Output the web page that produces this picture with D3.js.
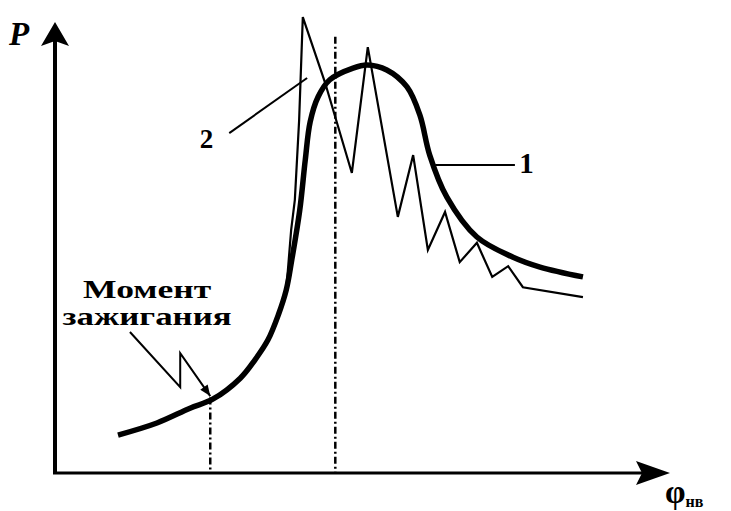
<!DOCTYPE html>
<html>
<head>
<meta charset="utf-8">
<script src="https://cdn.jsdelivr.net/npm/d3@7"></script>
<style>
  body { margin: 0; background: #fff; }
  svg { display: block; }
  text { font-family: "Liberation Serif", "DejaVu Serif", serif; font-weight: bold; fill: #000; }
</style>
</head>
<body>
<div class="container"></div>
<script>
// curve 1 (smooth, thick) and curve 2 (knocking, thin), values in chart units 0..100
var curve1 = [
    {x: 9.95, y: 7.8}, {x: 16.3, y: 10.5}, {x: 21.7, y: 13.8}, {x: 25.4, y: 15.8},
    {x: 29.9, y: 20.5}, {x: 32.3, y: 24.6}, {x: 34.4, y: 29.0}, {x: 36.1, y: 34.6},
    {x: 37.4, y: 40.2}, {x: 38.3, y: 46.9},
    {x: 39.6, y: 58.0}, {x: 40.5, y: 69.2}, {x: 41.3, y: 77.7}, {x: 42.6, y: 83.3},
    {x: 44.5, y: 87.1}, {x: 48.3, y: 89.7}, {x: 50.6, y: 90.4}, {x: 53.8, y: 89.3},
    {x: 57.1, y: 85.5}, {x: 59.2, y: 79.2}, {x: 60.8, y: 70.3}, {x: 63.6, y: 60.9},
    {x: 68.5, y: 52.0}, {x: 74.4, y: 47.5}, {x: 78.8, y: 45.3}, {x: 85.8, y: 43.1}
];

var curve2 = [
    {x: 37.2, y: 38.5}, {x: 37.6, y: 43.5}, {x: 38.2, y: 53.6}, {x: 38.8, y: 60.3},
    {x: 39.5, y: 78.1}, {x: 40.1, y: 101.1}, {x: 43.7, y: 86.6}, {x: 48.1, y: 66.3},
    {x: 50.7, y: 94.4}, {x: 55.6, y: 56.5}, {x: 58.1, y: 70.3}, {x: 60.5, y: 49.1},
    {x: 63.3, y: 57.6}, {x: 65.7, y: 46.4}, {x: 68.5, y: 50.7}, {x: 71.0, y: 43.1},
    {x: 73.6, y: 45.5}, {x: 76.0, y: 40.8}, {x: 85.8, y: 38.6}
];

// dash-dot markers: ignition moment and top dead centre
var markers = [{x: 25.0, y: 16.2}, {x: 45.4, y: 96.7}];

// annotation leaders
var ignitionLeader = [{x: 11.9, y: 30.8}, {x: 20.1, y: 18.5}, {x: 20.1, y: 26.1}, {x: 25.0, y: 16.5}];
var leader2 = [{x: 28.1, y: 75.2}, {x: 40.8, y: 87.5}];
var leader1 = [{x: 61.7, y: 68.1}, {x: 74.7, y: 68.1}];

var labels = [
    {text: '2', x: 23.3, y: 71.9, size: 27, anchor: 'start'},
    {text: '1', x: 75.4, y: 66.3, size: 29, anchor: 'start'},
    {text: 'Момент', x: 14.7, y: 38.4, size: 25, anchor: 'middle', len: 128},
    {text: 'зажигания', x: 14.7, y: 32.4, size: 25, anchor: 'middle', len: 169}
];

var drawChart = function () {
    var WIDTH = 731, HEIGHT = 511;

    var xScale = d3.scaleLinear().domain([0, 100]).range([57, 670]);
    var yScale = d3.scaleLinear().domain([0, 100]).range([470, 22]);

    var svg = d3.select('.container').append('svg')
        .attr('width', WIDTH)
        .attr('height', HEIGHT);

    var line = d3.line()
        .x(function (d) { return xScale(d.x); })
        .y(function (d) { return yScale(d.y); });

    var smooth = d3.line()
        .x(function (d) { return xScale(d.x); })
        .y(function (d) { return yScale(d.y); })
        .curve(d3.curveCatmullRom.alpha(0.5));

    // axes (the picture's axes sit a few px off the origin)
    var ox = xScale(0) - 2, oy = yScale(0) + 3;
    svg.append('line')
        .attr('x1', ox).attr('y1', oy + 1)
        .attr('x2', ox).attr('y2', 40)
        .attr('stroke', '#000').attr('stroke-width', 4);
    svg.append('line')
        .attr('x1', ox - 2).attr('y1', oy)
        .attr('x2', 645).attr('y2', oy)
        .attr('stroke', '#000').attr('stroke-width', 3);

    svg.append('path')
        .attr('d', 'M' + ox + ',22 L' + (ox + 14) + ',46 L' + ox + ',41 L' + (ox - 14) + ',46 Z')
        .attr('fill', '#000');
    svg.append('path')
        .attr('d', 'M670,' + oy + ' L636,' + (oy - 12) + ' L642,' + oy + ' L636,' + (oy + 12) + ' Z')
        .attr('fill', '#000');

    svg.append('text')
        .attr('x', 9).attr('y', 45)
        .attr('font-size', 33)
        .attr('font-style', 'italic')
        .text('P');

    var phi = svg.append('text')
        .attr('x', 665).attr('y', 503)
        .attr('font-size', 33)
        .text('φ');
    phi.append('tspan')
        .attr('font-size', 16)
        .attr('dy', 4)
        .text('нв');

    // dash-dot markers
    svg.selectAll('.marker')
        .data(markers)
        .enter().append('line')
        .attr('class', 'marker')
        .attr('x1', function (d) { return xScale(d.x); })
        .attr('x2', function (d) { return xScale(d.x); })
        .attr('y1', function (d) { return yScale(d.y); })
        .attr('y2', oy)
        .attr('stroke', '#000')
        .attr('stroke-width', 2.5)
        .attr('stroke-dasharray', '7,3,2,3');

    // curves
    svg.append('path')
        .attr('d', line(curve2))
        .attr('fill', 'none')
        .attr('stroke', '#000')
        .attr('stroke-width', 2.2)
        .attr('stroke-linejoin', 'miter');

    svg.append('path')
        .attr('d', smooth(curve1))
        .attr('fill', 'none')
        .attr('stroke', '#000')
        .attr('stroke-width', 5.5)
        .attr('stroke-linecap', 'butt');

    // leaders
    [ignitionLeader, leader2, leader1].forEach(function (pts) {
        svg.append('path')
            .attr('d', line(pts))
            .attr('fill', 'none')
            .attr('stroke', '#000')
            .attr('stroke-width', 2);
    });

    // arrowhead at the ignition point
    var a = ignitionLeader[2], b = ignitionLeader[3];
    var bx = xScale(b.x), by = yScale(b.y);
    var ang = Math.atan2(by - yScale(a.y), bx - xScale(a.x));
    var L = 11, W = 4.5;
    var px = bx - L * Math.cos(ang), py = by - L * Math.sin(ang);
    svg.append('path')
        .attr('d', 'M' + bx + ',' + by +
            ' L' + (px - W * Math.sin(ang)) + ',' + (py + W * Math.cos(ang)) +
            ' L' + (px + W * Math.sin(ang)) + ',' + (py - W * Math.cos(ang)) + ' Z')
        .attr('fill', '#000');

    // labels
    svg.selectAll('.label')
        .data(labels)
        .enter().append('text')
        .attr('class', 'label')
        .attr('x', function (d) { return xScale(d.x); })
        .attr('y', function (d) { return yScale(d.y); })
        .attr('font-size', function (d) { return d.size; })
        .attr('text-anchor', function (d) { return d.anchor; })
        .attr('textLength', function (d) { return d.len || null; })
        .attr('lengthAdjust', 'spacingAndGlyphs')
        .text(function (d) { return d.text; });
};

window.onload = drawChart;
</script>
</body>
</html>
